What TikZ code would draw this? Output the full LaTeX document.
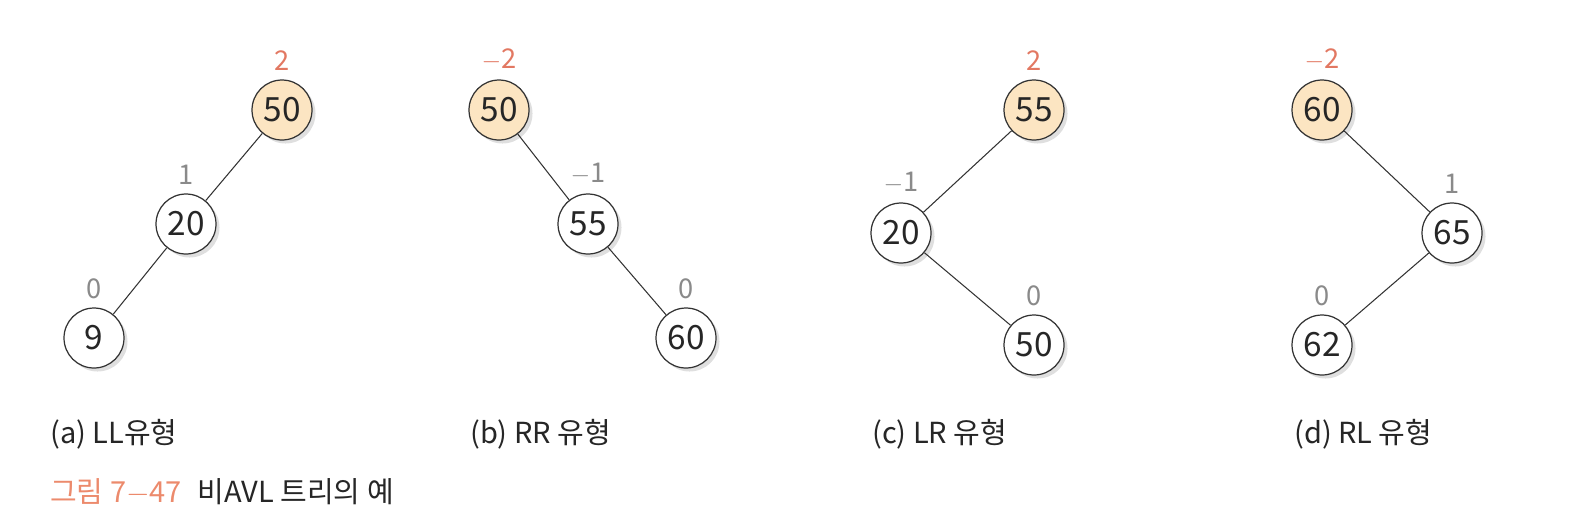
\documentclass[tikz,border=0pt]{standalone}
\usepackage{fontspec}
\setmainfont{Noto Sans CJK KR}
\usepackage{tikz}
\usetikzlibrary{positioning,shadows}

\definecolor{rootfill}{HTML}{FCE5C2}
\definecolor{balred}{HTML}{E27862}
\definecolor{balgray}{HTML}{8A8A8A}
\definecolor{capred}{HTML}{EC8A6C}

\begin{document}
\begin{tikzpicture}[
  x=0.02cm, y=-0.02cm,
  treenode/.style={draw=black!80,line width=0.7pt,circle,minimum size=1.2cm,inner sep=0pt,fill=white,
    font=\fontsize{19}{22}\selectfont,text=black!85,
    drop shadow={shadow xshift=2pt,shadow yshift=-2pt,opacity=0.25}},
  rootnode/.style={treenode,fill=rootfill},
  bal/.style={font=\fontsize{15.5}{18}\selectfont,text=balgray,label distance=1.5pt},
  badbal/.style={bal,text=balred},
  edgeline/.style={draw=black!80,line width=0.6pt},
  caption/.style={font=\fontsize{16.5}{19}\selectfont,text=black!85,anchor=west}
]
\useasboundingbox (0,0) rectangle (1574,528);

% (a) LL
\node[rootnode,label={[badbal]above:2}] (a50) at (282,110) {50};
\node[treenode,label={[bal]above:1}] (a20) at (186,224) {20};
\node[treenode,label={[bal]above:0}] (a9) at (94,338) {9};
\path (a50) edge[edgeline] (a20)
(a20) edge[edgeline] (a9);

% (b) RR
\node[rootnode,label={[badbal]above:$-$2}] (b50) at (499,110) {50};
\node[treenode,label={[bal]above:$-$1}] (b55) at (588,224) {55};
\node[treenode,label={[bal]above:0}] (b60) at (686,338) {60};
\path (b50) edge[edgeline] (b55)
(b55) edge[edgeline] (b60);

% (c) LR
\node[rootnode,label={[badbal]above:2}] (c55) at (1034,110) {55};
\node[treenode,label={[bal]above:$-$1}] (c20) at (901,233) {20};
\node[treenode,label={[bal]above:0}] (c50) at (1034,345) {50};
\path (c55) edge[edgeline] (c20)
(c20) edge[edgeline] (c50);

% (d) RL
\node[rootnode,label={[badbal]above:$-$2}] (d60) at (1322,110) {60};
\node[treenode,label={[bal]above:1}] (d65) at (1452,233) {65};
\node[treenode,label={[bal]above:0}] (d62) at (1322,345) {62};
\path (d60) edge[edgeline] (d65)
(d65) edge[edgeline] (d62);

% captions
\node[caption] (capa) at (44,434) {(a) LL유형};
\node[caption] (capb) at (464,434) {(b) RR 유형};
\node[caption] (capc) at (866,434) {(c) LR 유형};
\node[caption] (capd) at (1288,434) {(d) RL 유형};

\node[caption,text=capred] (fig) at (44,492) {그림 7$-$47};
\node[caption,right=2pt of fig] (figtxt) {비AVL 트리의 예};

\end{tikzpicture}
\end{document}
